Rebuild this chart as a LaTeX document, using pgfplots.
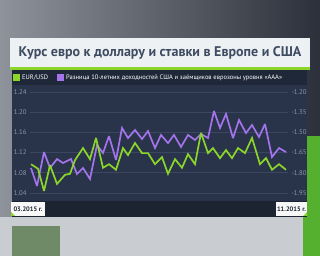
\documentclass[border=0pt]{standalone}
\usepackage{pgfplots}
\pgfplotsset{compat=1.18}
\usepackage{fontspec}
\setmainfont{PT Sans}
\definecolor{panel}{HTML}{29334A}
\definecolor{band}{HTML}{1F2839}
\definecolor{strip}{HTML}{1C2331}
\definecolor{gridc}{HTML}{3B4760}
\definecolor{tickc}{HTML}{8E98A8}
\definecolor{greenc}{HTML}{8CD62A}
\definecolor{purplec}{HTML}{A374EC}
\definecolor{titlec}{HTML}{3E4C62}
\definecolor{titlebg}{HTML}{EEF1F4}
\definecolor{bgtopl}{HTML}{8E939B}
\definecolor{bgtopr}{HTML}{2C303A}
\definecolor{bgbot}{HTML}{C9CDD1}
\definecolor{bggreen1}{HTML}{6E8A66}
\definecolor{bggreen2}{HTML}{55B030}
\pgfplotstableread{
x y
31 1.097
38 1.088
44 1.044
50 1.095
57 1.058
65 1.076
70 1.078
75 1.105
83 1.129
90 1.107
96 1.149
103 1.090
109 1.097
116 1.086
123 1.129
128 1.115
135 1.139
142 1.119
148 1.119
155 1.097
162 1.111
168 1.078
175 1.107
182 1.090
188 1.117
195 1.097
201 1.159
208 1.119
213 1.129
220 1.109
226 1.125
232 1.109
238 1.129
245 1.119
252 1.149
260 1.097
266 1.109
272 1.086
279 1.097
286 1.086
}\eurusd
\pgfplotstableread{
x y
31 -1.764
37 -1.898
44 -1.646
50 -1.764
57 -1.698
63 -1.727
71 -1.698
77 -1.809
83 -1.764
90 -1.846
97 -1.594
103 -1.653
109 -1.527
116 -1.705
122 -1.467
128 -1.542
135 -1.482
142 -1.549
148 -1.490
155 -1.616
161 -1.519
168 -1.579
174 -1.519
181 -1.608
188 -1.519
195 -1.556
201 -1.512
208 -1.542
214 -1.341
220 -1.467
226 -1.363
233 -1.542
239 -1.408
246 -1.505
252 -1.445
259 -1.534
265 -1.438
272 -1.683
279 -1.616
286 -1.646
}\spread
\pgfplotsset{
  common/.style={anchor=south west, scale only axis,
    width=258pt, height=101pt, xmin=30, xmax=288,
    axis line style={draw=none}, xtick=\empty,
    major tick length=0pt,
    tick label style={font=\fontsize{6.8}{8}\selectfont, text=tickc},
    yticklabel style={/pgf/number format/.cd, fixed, fixed zerofill, precision=2, assume math mode=true},
    clip=false}
}
\begin{document}
\begin{tikzpicture}
% background
\shade[left color=bgtopl, right color=bgtopr] (0pt,39pt) rectangle (320pt,256pt);
\fill[bgbot] (0pt,0pt) rectangle (320pt,39pt);
\fill[bggreen1] (12pt,0pt) rectangle (60pt,30pt);
\fill[bggreen2] (303pt,0pt) rectangle (320pt,120pt);
% title
\fill[titlebg] (10pt,189pt) rectangle (310pt,218pt);
\fill[greenc] (10pt,186pt) rectangle (310pt,189pt);
\node[text=titlec, font=\bfseries\fontsize{14}{16}\selectfont] at (160pt,203.5pt) {Курс евро к доллару и ставки в Европе и США};
% panel
\fill[panel] (12pt,39pt) rectangle (307pt,186pt);
\fill[band] (12pt,171pt) rectangle (307pt,186pt);
\fill[strip] (12pt,39pt) rectangle (307pt,55pt);
% legend
\fill[greenc] (13pt,175pt) rectangle (20pt,182pt);
\node[anchor=west, text=white, inner sep=1pt, font=\fontsize{6.5}{7}\selectfont] at (21pt,178.5pt) {EUR/USD};
\fill[purplec] (57pt,175pt) rectangle (64pt,182pt);
\node[anchor=west, text=white, inner sep=1pt, font=\fontsize{6.5}{7}\selectfont] at (65pt,178.5pt) {Разница 10-летних доходностей США и заёмщиков еврозоны уровня «ААА»};
% right axis (purple) with grid
\begin{axis}[common, at={(30pt,63pt)}, ymin=-1.95, ymax=-1.20,
  ytick={-1.95,-1.80,-1.65,-1.50,-1.35,-1.20},
  yticklabel pos=right, ymajorgrids, grid style={color=gridc, line width=0.6pt}]
\addplot[color=purplec, line width=1.7pt, line join=miter, miter limit=3, mark=none] table[x=x,y=y] {\spread};
\end{axis}
% left axis (green)
\begin{axis}[common, at={(30pt,63pt)}, ymin=1.04, ymax=1.24,
  ytick={1.04,1.08,1.12,1.16,1.20,1.24}]
\addplot[color=greenc, line width=1.7pt, line join=miter, miter limit=3, mark=none] table[x=x,y=y] {\eurusd};
\end{axis}
% date labels
\fill[white!94!gray] (11pt,40pt) rectangle (45pt,54pt);
\fill[greenc] (11pt,40pt) -- (15pt,40pt) -- (11pt,44pt) -- cycle;
\node[text=strip, font=\bfseries\fontsize{6.5}{8}\selectfont] at (28pt,47pt) {03.2015 г.};
\fill[white!94!gray] (276pt,40pt) rectangle (307pt,54pt);
\fill[greenc] (307pt,40pt) -- (303pt,40pt) -- (307pt,44pt) -- cycle;
\node[text=strip, font=\bfseries\fontsize{6.5}{8}\selectfont] at (291.5pt,47pt) {11.2015 г.};
\end{tikzpicture}
\end{document}
